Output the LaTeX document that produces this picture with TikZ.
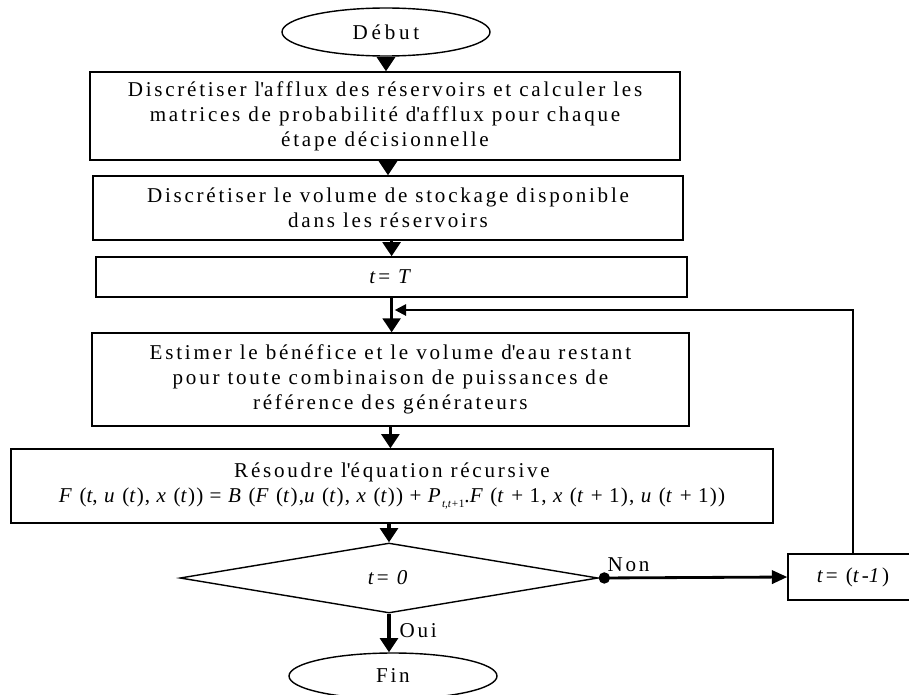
\documentclass[tikz,border=0pt]{standalone}
\usepackage{fontspec}
\setmainfont{Liberation Serif}[LetterSpace=13]
\usetikzlibrary{shapes,shapes.geometric}
\usetikzlibrary{positioning,arrows.meta}

\newcommand{\vr}[1]{\textit{#1}}
\newcommand{\apos}{\textquotesingle}

\begin{document}
\begin{tikzpicture}[
  boite/.style={draw, line width=1pt, rectangle, align=center, inner sep=0pt},
  ovale/.style={draw, line width=1pt, ellipse, inner sep=0pt},
  losange/.style={draw, line width=1pt, diamond, inner sep=0pt},
  fleche/.style={line width=2.6pt, -{Triangle[width=12.5pt,length=10pt]}},
  boucle/.style={line width=1.5pt, -{Triangle[width=8pt,length=8pt]}},
  non/.style={line width=2pt, {Circle[length=8pt]}-{Triangle[width=9.5pt,length=11pt]}},
  font=\fontsize{15}{17.8}\selectfont]
\useasboundingbox (0,0) rectangle (22.725,-17.35);

% debut et etapes
\node[ovale, minimum width=5.2cm, minimum height=1.2cm] (debut) at (9.65,-0.8) {\addfontfeature{LetterSpace=18}Début};
\node[boite, minimum width=14.75cm, minimum height=2.2cm] (afflux) at (9.625,-2.9)
  {Discrétiser l\apos afflux des réservoirs et calculer les\\ matrices de probabilité d\apos afflux pour chaque\\ étape décisionnelle};
\node[boite, minimum width=14.75cm, minimum height=1.6cm] (volume) at (9.7,-5.2)
  {Discrétiser le volume de stockage disponible\\ dans les réservoirs};
\node[boite, minimum width=14.775cm, minimum height=1cm] (init) at (9.79,-6.925) {\vr{t}= \vr{T}};
\node[boite, minimum width=14.93cm, minimum height=2.325cm] (estim) at (9.76,-9.49)
  {Estimer le bénéfice et le volume d\apos eau restant\\ pour toute combinaison de puissances de\\ référence des générateurs};
\node[boite, minimum width=19.05cm, minimum height=1.85cm] (resoudre) at (9.8,-12.15)
  {Résoudre l\apos équation récursive\\
   \addfontfeature{LetterSpace=5.5}\vr{F} (\vr{t}, \vr{u} (\vr{t}), \vr{x} (\vr{t})) = \vr{B} (\vr{F} (\vr{t}),\vr{u} (\vr{t}), \vr{x} (\vr{t})) +
   \vr{P}\raisebox{-0.5ex}{\fontsize{8}{8}\selectfont\vr{t},\vr{t}+1}.\vr{F} (\vr{t} + 1, \vr{x} (\vr{t} + 1), \vr{u} (\vr{t} + 1))};

% test et fin
\node[losange, minimum width=10.45cm, minimum height=1.75cm] (test) at (9.725,-14.45) {\vr{t}= \vr{0}};
\node[ovale, minimum width=5.2cm, minimum height=1.15cm] (fin) at (9.825,-16.9) {Fin};
\node[boite, minimum width=3.25cm, minimum height=1.15cm] (decr) at (21.325,-14.425) {\vr{t}= (\vr{t}-\vr{1})};
\coordinate (retour) at (9.87,-7.75);

% fleches
\draw[fleche] (debut.south) -- (debut.south |- afflux.north);
\draw[fleche] (volume.north |- afflux.south) -- (volume.north);
\draw[fleche] (init.north |- volume.south) -- (init.north);
\draw[fleche] (init.south) -- (init.south |- estim.north);
\draw[fleche] (estim.south) -- (estim.south |- resoudre.north);
\draw[fleche] (test.north |- resoudre.south) -- (test.north);
\draw[fleche] (test.south) -- (test.south |- fin.north) node[pos=0.45, right=3pt] {Oui};
\draw[non] (test.east) -- (decr.west) node[pos=0, anchor=south west, xshift=2pt] {Non};
\draw[boucle] (decr.north) |- (retour);
\end{tikzpicture}
\end{document}
